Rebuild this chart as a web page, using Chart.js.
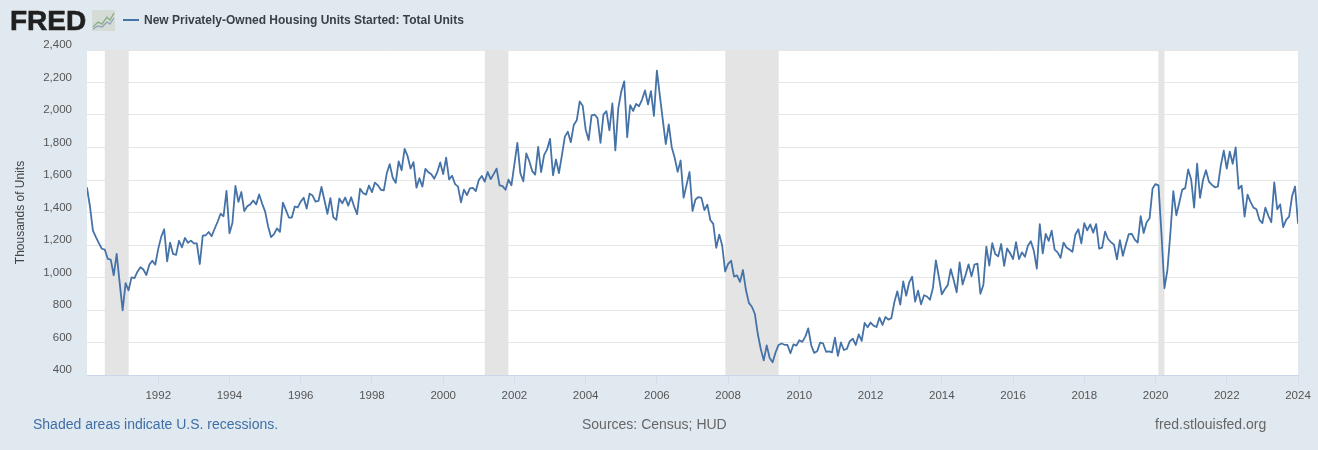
<!DOCTYPE html>
<html>
<head>
<meta charset="utf-8">
<title>New Privately-Owned Housing Units Started: Total Units</title>
<script src="https://cdn.jsdelivr.net/npm/chart.js@4"></script>
<style>
  html, body { margin: 0; padding: 0; background: #e1e9f0; overflow: hidden; }
  #wrap { position: relative; width: 1318px; height: 450px; font-family: "Liberation Sans", Arial, sans-serif; }
  #chart { position: absolute; left: 0; top: 0; }
  .txt { position: absolute; white-space: nowrap; }
  #logo { left: 10px; top: 4px; font-size: 28px; line-height: 34px; font-weight: bold; color: #202020; -webkit-text-stroke: 0.6px #202020; }
  #icon { position: absolute; left: 92px; top: 10px; }
  #swatch { position: absolute; left: 123px; top: 19px; width: 16px; height: 2px; background: #4572a7; }
  #title { left: 144px; top: 12px; font-size: 12px; line-height: 16px; font-weight: bold; color: #3a4048; }
  .foot { top: 416px; font-size: 14px; line-height: 17px; color: #666; }
</style>
</head>
<body>
<div id="wrap">
  <canvas id="chart" width="1318" height="450"></canvas>
  <div class="txt" id="logo">FRED</div>
  <svg id="icon" width="23" height="21" viewBox="0 0 23 21">
    <rect width="23" height="21" fill="#d5dcd6"/>
    <polyline points="1,17 6,12 10,14 15,7 18,10 22,3" fill="none" stroke="#8fae8c" stroke-width="1.4"/>
    <polyline points="1,19 6,16 10,17 15,12 18,14 22,8" fill="none" stroke="#8a9fb8" stroke-width="1.2"/>
  </svg>
  <div id="swatch"></div>
  <div class="txt" id="title">New Privately-Owned Housing Units Started: Total Units</div>
  <div class="txt foot" style="left:33px;color:#3f6ea6">Shaded areas indicate U.S. recessions.</div>
  <div class="txt foot" style="left:582px">Sources: Census; HUD</div>
  <div class="txt foot" style="left:1155px">fred.stlouisfed.org</div>
</div>
<script>
const seriesName = "New Privately-Owned Housing Units Started: Total Units";
const yAxisName = "Thousands of Units";
const startYear = 1990;
const endYear = 2024;

// monthly values, thousands of units
const units1990s = [
  1551, 1437, 1289, 1248, 1212, 1177, 1171, 1115, 1110, 1014, 1145, 969,
  798, 965, 921, 1001, 996, 1036, 1063, 1049, 1015, 1079, 1103, 1079,
  1176, 1250, 1297, 1099, 1214, 1145, 1139, 1226, 1186, 1244, 1214, 1227,
  1210, 1210, 1083, 1258, 1260, 1280, 1254, 1300, 1343, 1392, 1377, 1533,
  1272, 1337, 1564, 1465, 1526, 1409, 1439, 1450, 1474, 1450, 1511, 1455,
  1407, 1316, 1249, 1267, 1302, 1281, 1461, 1416, 1369, 1369, 1437, 1431,
  1467, 1491, 1424, 1516, 1504, 1467, 1472, 1557, 1475, 1392, 1489, 1370,
  1355, 1486, 1457, 1492, 1442, 1494, 1437, 1390, 1546, 1520, 1510, 1566,
  1525, 1584, 1567, 1540, 1536, 1641, 1698, 1614, 1582, 1715, 1660, 1792,
  1748, 1670, 1710, 1553, 1611, 1559, 1669, 1648, 1635, 1608, 1648, 1708
];
const units2000s = [
  1636, 1737, 1604, 1626, 1575, 1559, 1463, 1541, 1507, 1549, 1551, 1532,
  1600, 1625, 1590, 1649, 1605, 1636, 1670, 1567, 1562, 1540, 1602, 1568,
  1698, 1829, 1642, 1592, 1764, 1717, 1655, 1633, 1804, 1648, 1753, 1788,
  1853, 1629, 1726, 1643, 1751, 1867, 1897, 1833, 1939, 1967, 2083, 2057,
  1911, 1846, 1998, 2003, 1981, 1828, 2002, 2024, 1905, 2072, 1782, 2042,
  2144, 2207, 1864, 2061, 2025, 2068, 2054, 2095, 2151, 2065, 2147, 1994,
  2273, 2119, 1969, 1821, 1942, 1802, 1737, 1650, 1720, 1491, 1570, 1649,
  1409, 1480, 1495, 1490, 1415, 1448, 1354, 1330, 1183, 1264, 1197, 1037,
  1084, 1103, 1005, 1013, 973, 1046, 923, 844, 820, 777, 652, 560,
  490, 582, 505, 478, 540, 585, 594, 586, 585, 534, 588, 581
];
const units2010s = [
  614, 604, 636, 687, 583, 536, 546, 599, 594, 543, 545, 539,
  630, 518, 600, 554, 561, 608, 623, 585, 650, 610, 720, 694,
  723, 704, 695, 753, 708, 757, 741, 750, 847, 915, 833, 976,
  888, 969, 1005, 852, 919, 835, 891, 883, 863, 936, 1105, 1003,
  897, 928, 953, 1052, 985, 909, 1093, 957, 1015, 1081, 1007, 1080,
  1085, 900, 954, 1190, 1073, 1211, 1145, 1130, 1206, 1071, 1179, 1149,
  1114, 1218, 1113, 1155, 1128, 1195, 1223, 1164, 1054, 1328, 1149, 1268,
  1225, 1288, 1172, 1155, 1121, 1215, 1185, 1172, 1158, 1265, 1297, 1210,
  1334, 1290, 1327, 1276, 1329, 1177, 1184, 1282, 1237, 1217, 1202, 1112,
  1230, 1134, 1203, 1267, 1268, 1233, 1215, 1377, 1274, 1340, 1365, 1547
];
const units2020s = [
  1575, 1567, 1269, 934, 1046, 1272, 1531, 1383, 1460, 1541, 1550, 1665,
  1603, 1430, 1700, 1490, 1600, 1660, 1590, 1570, 1555, 1560, 1690, 1780,
  1670, 1775, 1700, 1800, 1545, 1565, 1375, 1510, 1465, 1430, 1420, 1355,
  1335, 1430, 1380, 1340, 1585, 1420, 1450, 1310, 1355, 1375, 1500, 1560,
  1335
];
const recessionStarts = [1990.5, 2001.17, 2007.92, 2020.08];
const recessionEnds = [1991.17, 2001.83, 2009.42, 2020.25];
const yMin = 400;
const yMax = 2400;
const yStep = 200;
const xStep = 2;

const units = [...units1990s, ...units2000s, ...units2010s, ...units2020s];
const points = units.map((value, index) => ({ x: startYear + index / 12, y: value }));

// white plot background and the recession bands, placed through the x scale
const plotBackground = {
  id: "plotBackground",
  beforeDraw(chart) {
    const { ctx, chartArea } = chart;
    ctx.save();
    ctx.fillStyle = "#ffffff";
    ctx.fillRect(chartArea.left, chartArea.top, chartArea.right - chartArea.left, chartArea.bottom - chartArea.top);
    ctx.restore();
  },
  beforeDatasetsDraw(chart) {
    const { ctx, chartArea, scales } = chart;
    ctx.save();
    ctx.fillStyle = "#e4e4e4";
    recessionStarts.forEach((start, index) => {
      const left = scales.x.getPixelForValue(start);
      const right = scales.x.getPixelForValue(recessionEnds[index]);
      ctx.fillRect(left, chartArea.top, right - left, chartArea.bottom - chartArea.top);
    });
    ctx.restore();
  }
};

new Chart(document.querySelector("#chart"), {
  type: "line",
  data: {
    datasets: [{
      label: seriesName,
      data: points,
      borderColor: "#4572a7",
      borderWidth: 1.8,
      pointRadius: 0,
      tension: 0,
      borderJoinStyle: "round",
      borderCapStyle: "round"
    }]
  },
  options: {
    responsive: false,
    animation: false,
    layout: { padding: { top: 50, right: 20, bottom: 0, left: 0 } },
    plugins: { legend: { display: false }, tooltip: { enabled: false } },
    scales: {
      x: {
        type: "linear",
        min: startYear,
        max: endYear,
        afterFit: (scale) => { scale.height = 75; },
        ticks: {
          stepSize: xStep,
          maxRotation: 0,
          padding: 5,
          color: "#555",
          font: { family: "Liberation Sans", size: 11.5 },
          callback: (value) => (value === startYear ? "" : String(value))
        },
        grid: {
          drawOnChartArea: false,
          tickLength: 9,
          tickColor: (context) => (context.tick && context.tick.value === startYear ? "rgba(0,0,0,0)" : "#d6dde6")
        },
        border: { color: "#ccd6eb" }
      },
      y: {
        min: yMin,
        max: yMax,
        afterFit: (scale) => { scale.width = 87; },
        title: {
          display: true,
          text: yAxisName,
          color: "#444",
          font: { family: "Liberation Sans", size: 12 },
          padding: { top: 13, bottom: 0 }
        },
        ticks: {
          stepSize: yStep,
          padding: 15,
          labelOffset: -5,
          color: "#555",
          font: { family: "Liberation Sans", size: 11.5 },
          callback: (value) => value.toLocaleString("en-US")
        },
        grid: { drawTicks: false, color: "#e6e6e6" },
        border: { display: false }
      }
    }
  },
  plugins: [plotBackground]
});
</script>
</body>
</html>
